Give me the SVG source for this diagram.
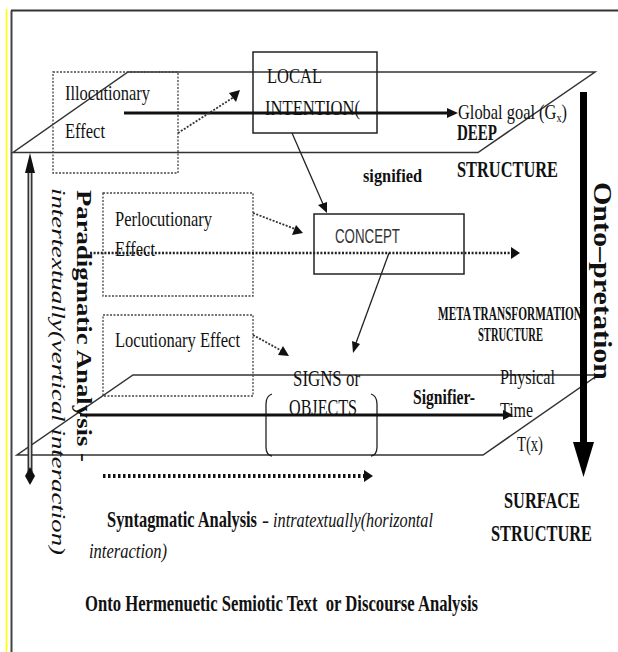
<svg xmlns="http://www.w3.org/2000/svg" width="618" height="652" viewBox="0 0 618 652">
<style>
.s{font-family:"Liberation Serif","Times New Roman",serif;fill:#111}
.b{font-weight:bold}
.i{font-style:italic}
.sans{font-family:"Liberation Sans",Arial,sans-serif;fill:#333}
.plane{fill:none;stroke:#333;stroke-width:1.5}
.dbox{fill:none;stroke:#444;stroke-width:1.3;stroke-dasharray:2 1.5}
.box{fill:none;stroke:#222;stroke-width:1.5}
.ln{fill:none;stroke:#222;stroke-width:1.3}
.dot{fill:none;stroke:#333;stroke-width:1.8;stroke-dasharray:2 1.5}
.ah{fill:#111}
</style>
<rect width="618" height="652" fill="#fff"/>
<g id="frame">
<line x1="6.5" y1="9" x2="6.5" y2="652" stroke="#ffff00" stroke-width="1.6"/>
<line x1="11.5" y1="10.5" x2="11.5" y2="652" stroke="#444" stroke-width="2"/>
<line x1="11" y1="10.5" x2="618" y2="10.5" stroke="#333" stroke-width="2"/>
</g>
<g id="deep-plane">
<polygon class="plane" points="128,72 595,72 478,152.5 13,152.5"/>
</g>
<g id="surface-plane">
<polygon class="plane" points="133,375 598,375 483,455 17,455"/>
</g>
<g id="illocutionary">
<rect class="dbox" x="53" y="72" width="125" height="101"/>
<text class="s" x="65" y="100" font-size="21" textLength="85" lengthAdjust="spacingAndGlyphs">Illocutionary</text>
<text class="s" x="65" y="138" font-size="21" textLength="40" lengthAdjust="spacingAndGlyphs">Effect</text>
</g>
<g id="local-intention">
<rect class="box" x="253" y="52" width="124" height="81"/>
<text class="s" x="267" y="83" font-size="21" textLength="55" lengthAdjust="spacingAndGlyphs">LOCAL</text>
<text class="s" x="265" y="115" font-size="21" textLength="95" lengthAdjust="spacingAndGlyphs">INTENTION(</text>
</g>
<g id="perlocutionary">
<rect class="dbox" x="103" y="193" width="150" height="103"/>
<text class="s" x="115" y="226" font-size="21" textLength="97" lengthAdjust="spacingAndGlyphs">Perlocutionary</text>
<text class="s" x="115" y="256" font-size="21" textLength="40" lengthAdjust="spacingAndGlyphs">Effect</text>
</g>
<g id="concept">
<rect class="box" x="314" y="214" width="150" height="60"/>
<text class="sans" x="335" y="243" font-size="20" textLength="65" lengthAdjust="spacingAndGlyphs">CONCEPT</text>
</g>
<g id="locutionary">
<rect class="dbox" x="103" y="315" width="150" height="81"/>
<text class="s" x="115" y="347" font-size="21" textLength="125" lengthAdjust="spacingAndGlyphs">Locutionary Effect</text>
</g>
<g id="signs">
<text class="s" x="293" y="386" font-size="23" fill="#222" textLength="67" lengthAdjust="spacingAndGlyphs">SIGNS or</text>
<text class="s" x="289" y="415" font-size="23" fill="#222" textLength="68" lengthAdjust="spacingAndGlyphs">OBJECTS</text>
<path class="ln" d="M272,394 Q266,396 266,404 L266,447 Q266,455 272,456"/>
<path class="ln" d="M371,394 Q377,396 377,404 L377,447 Q377,455 371,456"/>
</g>
<g id="labels">
<text class="s" x="458" y="119" font-size="21" textLength="109" lengthAdjust="spacingAndGlyphs">Global goal (G<tspan font-size="13" dy="3">x</tspan><tspan dy="-3">)</tspan></text>
<text class="s b" x="457" y="140" font-size="23" textLength="40" lengthAdjust="spacingAndGlyphs">DEEP</text>
<text class="s b" x="457" y="177" font-size="23" textLength="101" lengthAdjust="spacingAndGlyphs">STRUCTURE</text>
<text class="s b" x="363" y="182" font-size="19" textLength="59" lengthAdjust="spacingAndGlyphs">signified</text>
<text class="s b" x="438" y="320" font-size="18" textLength="144" lengthAdjust="spacingAndGlyphs">META TRANSFORMATION</text>
<text class="s b" x="478" y="341" font-size="18" textLength="65" lengthAdjust="spacingAndGlyphs">STRUCTURE</text>
<text class="s b" x="413" y="404" font-size="21" textLength="62" lengthAdjust="spacingAndGlyphs">Signifier-</text>
<text class="s" x="500" y="384" font-size="21" textLength="55" lengthAdjust="spacingAndGlyphs">Physical</text>
<text class="s" x="500" y="417" font-size="21" textLength="33" lengthAdjust="spacingAndGlyphs">Time</text>
<text class="s" x="517" y="451" font-size="21" textLength="26" lengthAdjust="spacingAndGlyphs">T(x)</text>
<text class="s b" x="504" y="508" font-size="23" textLength="76" lengthAdjust="spacingAndGlyphs">SURFACE</text>
<text class="s b" x="491" y="541" font-size="23" textLength="101" lengthAdjust="spacingAndGlyphs">STRUCTURE</text>
<text class="s b" x="107" y="527" font-size="23" textLength="150" lengthAdjust="spacingAndGlyphs">Syntagmatic Analysis</text>
<text class="s" x="262" y="527" font-size="21">-</text>
<text class="s i" x="273" y="527" font-size="21" textLength="160" lengthAdjust="spacingAndGlyphs">intratextually(horizontal</text>
<text class="s i" x="89" y="558" font-size="21" textLength="78" lengthAdjust="spacingAndGlyphs">interaction)</text>
<text class="s b" x="85" y="611" font-size="24" textLength="393" lengthAdjust="spacingAndGlyphs" xml:space="preserve">Onto Hermenuetic Semiotic Text  or Discourse Analysis</text>
<text class="s b" transform="translate(594,182) rotate(90)" font-size="26" textLength="198" lengthAdjust="spacingAndGlyphs">Onto–pretation</text>
<text class="s b" transform="translate(77,190) rotate(90)" font-size="20" textLength="272" lengthAdjust="spacingAndGlyphs">Paradigmatic Analysis -</text>
<text class="s i" transform="translate(52,188) rotate(90)" font-size="19" textLength="367" lengthAdjust="spacingAndGlyphs">intertextually(vertical interaction)</text>
</g>
<g id="connectors">
<line x1="124" y1="113" x2="450" y2="113" stroke="#111" stroke-width="3.2"/>
<polygon class="ah" points="447,108 458,113 447,118"/>
<line class="dot" x1="178" y1="133" x2="234" y2="97"/>
<polygon class="ah" points="240,90 236,102 229,93"/>
<line class="ln" x1="292" y1="133" x2="323" y2="204"/>
<polygon class="ah" points="327,213 318,205 327,202"/>
<line class="dot" x1="253" y1="213" x2="295" y2="229"/>
<polygon class="ah" points="303,233 292,235 296,225"/>
<line x1="90" y1="253" x2="512" y2="253" stroke="#222" stroke-width="2.5" stroke-dasharray="2 1.6"/>
<polygon class="ah" points="511,247 520,253 511,259"/>
<line class="ln" x1="389" y1="253" x2="356" y2="343"/>
<polygon class="ah" points="353,353 352,341 360,344"/>
<line class="dot" x1="253" y1="335" x2="282" y2="351"/>
<polygon class="ah" points="289,356 278,355 283,346"/>
<line x1="80" y1="415" x2="505" y2="415" stroke="#111" stroke-width="3"/>
<polygon class="ah" points="503,410 513,415 503,420"/>
<line x1="103" y1="476" x2="364" y2="476" stroke="#111" stroke-width="4" stroke-dasharray="2.5 2.5"/>
<polygon class="ah" points="364,470 373,476 364,482"/>
<line x1="583.5" y1="92" x2="583.5" y2="445" stroke="#000" stroke-width="7"/>
<polygon points="573,442 594,442 583.5,477" fill="#000"/>
<line x1="30" y1="170" x2="30" y2="472" stroke="#333" stroke-width="5"/>
<line x1="30" y1="170" x2="30" y2="472" stroke="#fff" stroke-width="1.4"/>
<polygon class="ah" points="25,173 35,173 30,153"/>
<polygon class="ah" points="30,467 35,476 30,485 25,476"/>
</g>
</svg>
